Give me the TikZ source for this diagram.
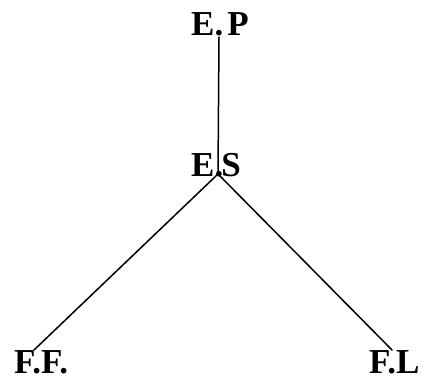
\documentclass[tikz,border=0pt]{standalone}
\usepackage{fontspec}
\setmainfont{Liberation Serif}
\begin{document}
\begin{tikzpicture}[x=1pt,y=-1pt,
  lbl/.style={font=\fontsize{35}{40}\selectfont\bfseries, inner sep=0pt, anchor=base west},
  conn/.style={line width=1.5pt, line cap=round}]
\useasboundingbox[fill=white] (0,0) rectangle (427,380);
\node[lbl] (EP) at (191,35) {E.\kern4pt P};
\node[lbl] (ES) at (191,176) {E.\kern-2pt S};
\node[lbl] (FF) at (14,373) {F.F.};
\node[lbl] (FL) at (369,373) {F.L};
\coordinate (epd) at (219,37);
\coordinate (esd) at (218,174);
\coordinate (ffe) at (34,350);
\coordinate (fle) at (392,350);
\draw[conn] (epd) -- (esd);
\draw[conn] (esd) -- (ffe);
\draw[conn] (esd) -- (fle);
\end{tikzpicture}
\end{document}
